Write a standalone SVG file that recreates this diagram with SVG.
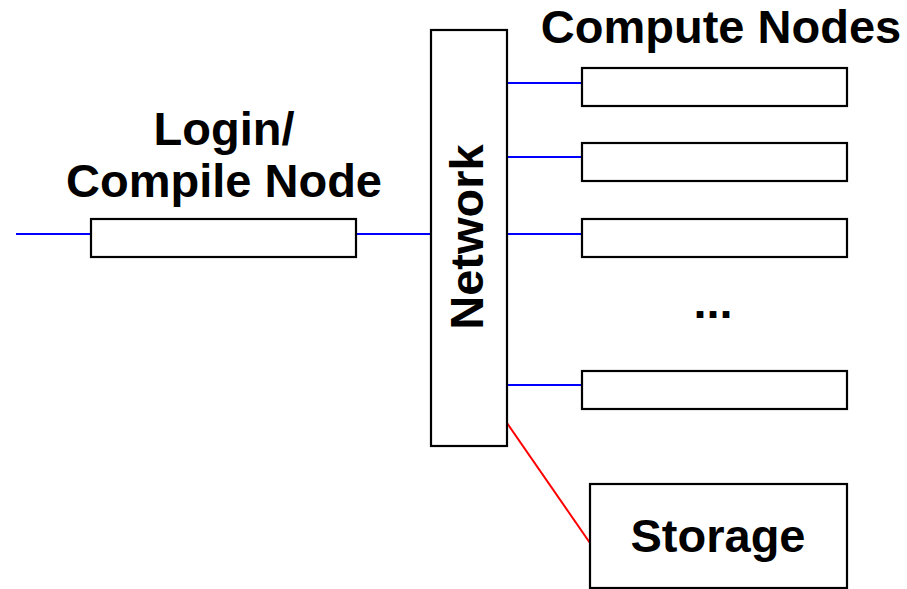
<svg xmlns="http://www.w3.org/2000/svg" width="907" height="589" viewBox="0 0 907 589">
<style>
.box{fill:#fff;stroke:#000;stroke-width:2.2}
.lbl{font-family:"Liberation Sans",Arial,sans-serif;font-weight:bold;font-size:47px;fill:#000}
.eth{stroke:#0000ff;stroke-width:2;fill:none}
.stor{stroke:#ff0000;stroke-width:2;fill:none}
</style>
<rect width="907" height="589" fill="#fff"/>
<g id="connectors">
<line class="eth" x1="16" y1="234" x2="91" y2="234"/>
<line class="eth" x1="356" y1="234" x2="431" y2="234"/>
<line class="eth" x1="507" y1="83" x2="582" y2="83"/>
<line class="eth" x1="507" y1="157" x2="582" y2="157"/>
<line class="eth" x1="507" y1="234" x2="582" y2="234"/>
<line class="eth" x1="507" y1="385" x2="582" y2="385"/>
<line class="stor" x1="507" y1="423" x2="590" y2="543"/>
</g>
<g id="login">
<rect class="box" x="91" y="219" width="265" height="38"/>
<text class="lbl" x="224" y="145" text-anchor="middle">Login/</text>
<text class="lbl" x="224" y="197" text-anchor="middle">Compile Node</text>
</g>
<g id="network">
<rect class="box" x="431" y="30" width="76" height="416"/>
<text class="lbl" transform="translate(483,237) rotate(-90)" text-anchor="middle">Network</text>
</g>
<g id="compute-title">
<text class="lbl" x="721" y="43" text-anchor="middle">Compute Nodes</text>
</g>
<g id="compute1"><rect class="box" x="582" y="68" width="265" height="38"/></g>
<g id="compute2"><rect class="box" x="582" y="143" width="265" height="38"/></g>
<g id="compute3"><rect class="box" x="582" y="219" width="265" height="38"/></g>
<g id="ellipsis"><text class="lbl" x="713" y="318" text-anchor="middle">...</text></g>
<g id="compute4"><rect class="box" x="582" y="371" width="265" height="38"/></g>
<g id="storage">
<rect class="box" x="590" y="484" width="257" height="104"/>
<text class="lbl" x="718" y="552" text-anchor="middle">Storage</text>
</g>
</svg>
